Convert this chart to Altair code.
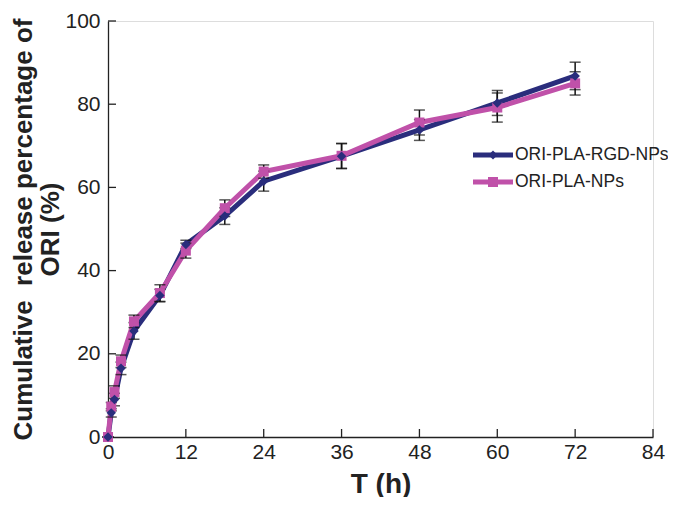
import altair as alt
import pandas as pd

time_h = [0, 0.5, 1, 2, 4, 8, 12, 18, 24, 36, 48, 60, 72]
rgd_vals = [0, 5.8, 9.0, 16.5, 25.5, 34.0, 46.3, 53.1, 61.5, 67.5, 73.8, 80.3, 86.8]
rgd_err = [0, 1.0, 1.5, 1.5, 2.0, 1.5, 1.0, 2.0, 2.4, 3.0, 2.5, 3.0, 3.3]
pla_vals = [0, 7.3, 10.8, 18.2, 27.8, 34.6, 44.8, 55.0, 63.8, 67.6, 75.6, 79.2, 85.0]
pla_err = [0, 1.0, 1.5, 1.5, 1.5, 2.0, 1.8, 2.0, 1.6, 3.0, 3.0, 3.5, 2.8]

series_names = ["ORI-PLA-RGD-NPs", "ORI-PLA-NPs"]
series_colors = ["#2a2d7c", "#c051a9"]
x_ticks = [0, 12, 24, 36, 48, 60, 72, 84]
y_ticks = [0, 20, 40, 60, 80, 100]

W, H = 545, 416
FONT = "Liberation Sans"

rows = []
for name, vals, errs in [(series_names[0], rgd_vals, rgd_err), (series_names[1], pla_vals, pla_err)]:
    for t, v, e in zip(time_h, vals, errs):
        rows.append({"t": t, "v": v, "lo": v - e, "hi": v + e, "series": name})
df = pd.DataFrame(rows)

xs = alt.Scale(domain=[0, 84], nice=False, zero=False)
ys = alt.Scale(domain=[0, 100], nice=False)
col = alt.Scale(domain=series_names, range=series_colors)

x_axis = alt.Axis(values=x_ticks, title="T (h)", ticks=False, grid=False, domainColor="#222222",
                  domainWidth=1.3, labelFont=FONT, labelFontSize=21, labelColor="#222222",
                  labelPadding=4, titleFont=FONT, titleFontSize=28, titleFontWeight="bold",
                  titleColor="#222222", titlePadding=8, labelFlush=False)
y_axis = alt.Axis(values=y_ticks, title=["Cumulative\u00a0 release percentage of", "ORI (%)"], ticks=False,
                  grid=False, domainColor="#222222", domainWidth=1.3, labelFont=FONT, labelFontSize=21,
                  labelColor="#222222", labelPadding=8, titleFont=FONT, titleFontSize=26,
                  titleFontWeight="bold", titleColor="#222222", titlePadding=1, titleLineHeight=27)

base = alt.Chart(df)

err_rule = base.mark_rule(color="#111111", strokeWidth=1.5).encode(
    x=alt.X("t:Q", scale=xs, axis=x_axis), y=alt.Y("lo:Q", scale=ys, axis=y_axis), y2="hi:Q")
err_hi = base.mark_tick(color="#111111", thickness=1.5, size=11, orient="horizontal").encode(
    x=alt.X("t:Q", scale=xs), y=alt.Y("hi:Q", scale=ys))
err_lo = base.mark_tick(color="#111111", thickness=1.5, size=11, orient="horizontal").encode(
    x=alt.X("t:Q", scale=xs), y=alt.Y("lo:Q", scale=ys))

lines = base.mark_line(strokeWidth=5).encode(
    x=alt.X("t:Q", scale=xs), y=alt.Y("v:Q", scale=ys),
    color=alt.Color("series:N", scale=col, legend=None),
    order=alt.Order("t:Q"))

pts_rgd = alt.Chart(df[df.series == series_names[0]]).mark_point(
    shape="diamond", filled=True, size=90, opacity=1, color=series_colors[0]).encode(
    x=alt.X("t:Q", scale=xs), y=alt.Y("v:Q", scale=ys))
pts_pla = alt.Chart(df[df.series == series_names[1]]).mark_point(
    shape="square", filled=True, size=100, opacity=1, color=series_colors[1]).encode(
    x=alt.X("t:Q", scale=xs), y=alt.Y("v:Q", scale=ys))

# inward ticks
xt = alt.Chart(pd.DataFrame({"v": x_ticks[1:]})).mark_rule(color="#222222", strokeWidth=1.3).encode(
    x=alt.X("v:Q", scale=xs), y=alt.value(H), y2=alt.value(H - 8))
yt = alt.Chart(pd.DataFrame({"v": y_ticks[1:]})).mark_rule(color="#222222", strokeWidth=1.3).encode(
    y=alt.Y("v:Q", scale=ys), x=alt.value(0), x2=alt.value(8))

# legend
leg_layers = []
leg_y = [134, 161]
shapes = ["diamond", "square"]
sizes = [80, 100]
for i, name in enumerate(series_names):
    ld = pd.DataFrame({"name": [name]})
    leg_layers.append(alt.Chart(ld).mark_rule(color=series_colors[i], strokeWidth=5).encode(
        x=alt.value(365), x2=alt.value(405), y=alt.value(leg_y[i])))
    leg_layers.append(alt.Chart(ld).mark_point(shape=shapes[i], filled=True, size=sizes[i], opacity=1,
                                               color=series_colors[i]).encode(
        x=alt.value(385), y=alt.value(leg_y[i])))
    leg_layers.append(alt.Chart(ld).mark_text(align="left", baseline="middle", font=FONT, fontSize=17.5,
                                              color="#222222").encode(
        x=alt.value(407), y=alt.value(leg_y[i]), text="name:N"))

chart = alt.layer(err_rule, lines, err_hi, err_lo, pts_pla, pts_rgd, xt, yt, *leg_layers).properties(
    width=W, height=H, autosize=alt.AutoSizeParams(type="none"),
    padding={"left": 100, "top": 13, "right": 15, "bottom": 60}
).configure_view(stroke=None).configure(background="white")

chart.save("out.html", embed_options={"renderer": "svg", "actions": False})
